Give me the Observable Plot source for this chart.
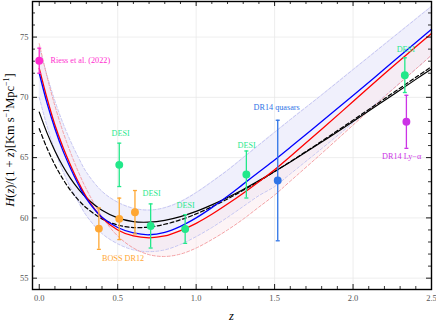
<!DOCTYPE html>
<html><head><meta charset="utf-8">
<script src="https://cdn.jsdelivr.net/npm/d3@7"></script>
<script src="https://cdn.jsdelivr.net/npm/@observablehq/plot@0.6"></script>
<style>body{margin:0;background:#fff;} #chart{width:436px;height:327px;}</style>
</head><body><div id="chart"></div>
<script>
// redshift grid for curves
const zGrid   = [0,0.05,0.1,0.15,0.2,0.25,0.3,0.4,0.5,0.6,0.7,0.8,0.9,1.0,1.1,1.2,1.3,1.4,1.5,1.6,1.8,2.0,2.2,2.4,2.5];
const hRed    = [72.4,69.9,67.7,65.9,64.35,62.95,61.75,60.0,59.0,58.5,58.35,58.5,58.95,59.55,60.3,61.15,62.05,63.0,64.0,65.1,67.35,69.65,71.95,74.2,75.3];
const hBlue   = [72.0,69.5,67.4,65.6,64.1,62.75,61.6,60.05,59.2,58.75,58.6,58.8,59.3,60.0,60.85,61.8,62.8,63.8,64.8,65.85,68.0,70.15,72.35,74.55,75.65];
const hBlack  = [68.77,67.03,65.55,64.3,63.26,62.39,61.67,60.63,60.0,59.69,59.65,59.8,60.11,60.54,61.08,61.69,62.36,63.09,63.85,64.64,66.29,68.0,69.74,71.49,72.36];
const hDashed = [67.4,65.77,64.39,63.24,62.27,61.48,60.84,59.92,59.41,59.2,59.24,59.47,59.84,60.33,60.92,61.57,62.29,63.04,63.84,64.66,66.36,68.11,69.88,71.66,72.54];
const hBandHi = [74.2,71.8,69.7,67.9,66.35,65.0,63.8,62.2,61.3,60.8,60.65,60.85,61.35,62.1,63.0,63.95,65.0,66.05,67.1,68.15,70.2,72.3,74.4,76.5,77.55];
const hBandLo = [70.0,67.6,65.6,63.9,62.5,61.3,60.2,58.7,57.85,57.35,57.2,57.35,57.8,58.45,59.2,60.05,60.95,61.85,62.6,63.65,65.75,67.9,70.1,72.35,73.5];
const hPink   = [74.45,71.7,69.3,67.2,65.4,63.8,62.4,60.1,58.5,57.5,56.95,56.8,57.0,57.5,58.2,59.0,59.9,60.9,61.9,63.05,65.35,67.7,70.05,72.35,73.5];

// observational data
const desiZ = [0.51,0.71,0.93,1.32,2.33];
const desiH = [64.4,59.33,59.08,63.6,71.84];
const desiE = [1.8,1.83,1.19,1.95,1.44];
const bossZ = [0.38,0.51,0.61];
const bossH = [59.11,59.92,60.47];
const bossE = [1.72,1.72,1.8];
const riessZ = [0], riessH = [73.04], riessE = [1.04];
const qsoZ = [1.52], qsoH = [63.1], qsoE = [5.0];
const lyaZ = [2.34], lyaH = [67.97], lyaE = [2.2];

// labels
const labText = ["Riess et al. (2022)","DESI","DESI","DESI","DESI","DESI","BOSS DR12","DR14 quasars","DR14 Ly\u2212\u03b1"];
const labZ    = [0.072,0.519,0.716,0.933,1.322,2.336,0.534,1.513,2.31];
const labH    = [73.07,67.0,62.02,61.03,66.0,73.98,56.62,69.16,65.09];
const labColor  = ["#ff2ccf","#2be88e","#2be88e","#2be88e","#2be88e","#2be88e","#ffa733","#2f74e6","#cc33e6"];

// ticks
const xTicks = [0,0.5,1,1.5,2,2.5];
const xMinor = [0.1,0.2,0.3,0.4,0.6,0.7,0.8,0.9,1.1,1.2,1.3,1.4,1.6,1.7,1.8,1.9,2.1,2.2,2.3,2.4];
const yTicks = [55,60,65,70,75];
const yMinor = [56,57,58,59,61,62,63,64,66,67,68,69,71,72,73,74,76,77];

const curves = zGrid.map((z,i)=>({z, red:hRed[i], blue:hBlue[i], black:hBlack[i], dashed:hDashed[i], hi:hBandHi[i], lo:hBandLo[i], pink:hPink[i]}));
const mk = (Z,H,E,c)=>Z.map((z,i)=>({z, h:H[i], e:E[i], c}));
const cRiess="#ff2ccf", cBoss="#ffa733", cDesi="#22e88a", cQso="#2f74e6", cLya="#cc33e6";
const pts = [...mk(bossZ,bossH,bossE,cBoss), ...mk(desiZ,desiH,desiE,cDesi), ...mk(riessZ,riessH,riessE,cRiess), ...mk(qsoZ,qsoH,qsoE,cQso), ...mk(lyaZ,lyaH,lyaE,cLya)];
const labels = labText.map((t,i)=>({t, z:labZ[i], h:labH[i], c:labColor[i]}));

const cap = {draw(ctx,size){const r=Math.sqrt(size/Math.PI); ctx.moveTo(-r,0); ctx.lineTo(r,0);}};
const W=436,H=327,mL=32,mR=5,mT=1,mB=38;
const pw=W-mL-mR, ph=H-mT-mB;
const serif="Liberation Serif, Times New Roman, serif";
const curve="catmull-rom";

const plot = Plot.plot({
  width:W, height:H, marginLeft:mL, marginRight:mR, marginTop:mT, marginBottom:mB,
  x:{domain:[-0.043,2.5]}, y:{domain:[54.06,77.95]},
  style:{fontFamily:serif, background:"#fff"},
  marks:[
    Plot.gridX(xTicks.slice(1,-1), {stroke:"#e6e6e6", strokeOpacity:1, strokeWidth:0.7}),
    Plot.gridY(yTicks, {stroke:"#e6e6e6", strokeOpacity:1, strokeWidth:0.7}),
    Plot.areaY(curves, {x:"z", y1:"lo", y2:"hi", fill:"#f0f0fc", curve}),
    Plot.areaY(curves, {x:"z", y1:"pink", y2:"red", fill:"#fbe6ea", fillOpacity:0.45, curve}),
    Plot.line(curves, {x:"z", y:"hi", stroke:"#c6c6f2", strokeWidth:1, strokeDasharray:"3,2", curve}),
    Plot.line(curves, {x:"z", y:"lo", stroke:"#c6c6f2", strokeWidth:1, strokeDasharray:"3,2", curve}),
    Plot.line(curves, {x:"z", y:"pink", stroke:"#f4a0a4", strokeWidth:1, strokeDasharray:"3,2", curve}),
    Plot.line(curves, {x:"z", y:"dashed", stroke:"#000", strokeWidth:1.2, strokeDasharray:"4,2.5", curve}),
    Plot.line(curves, {x:"z", y:"black", stroke:"#000", strokeWidth:1.2, curve}),
    Plot.line(curves, {x:"z", y:"red", stroke:"#f00", strokeWidth:1.3, curve}),
    Plot.line(curves, {x:"z", y:"blue", stroke:"#00f", strokeWidth:1.3, curve}),
    Plot.ruleX(pts, {x:"z", y1:d=>d.h-d.e, y2:d=>d.h+d.e, stroke:"c", strokeWidth:1.3}),
    Plot.dot(pts, {x:"z", y:d=>d.h+d.e, symbol:cap, r:2, stroke:"c", strokeWidth:1.3}),
    Plot.dot(pts, {x:"z", y:d=>d.h-d.e, symbol:cap, r:2, stroke:"c", strokeWidth:1.3}),
    Plot.dot(pts, {x:"z", y:"h", r:3.2, fill:"c", stroke:"c"}),
    Plot.text(labels.slice(0,1), {x:"z", y:"h", text:"t", textAnchor:"start", fill:"c", fontSize:8.2, fontFamily:serif}),
    Plot.text(labels.slice(1), {x:"z", y:"h", text:"t", textAnchor:"middle", fill:"c", fontSize:8.2, fontFamily:serif}),
    // inward ticks on all four sides
    Plot.tickX(xTicks, {x:d=>d, insetTop:ph-5, stroke:"#000", strokeWidth:0.9}),
    Plot.tickX(xMinor, {x:d=>d, insetTop:ph-3, stroke:"#000", strokeWidth:0.8}),
    Plot.tickX(xTicks, {x:d=>d, insetBottom:ph-5, stroke:"#000", strokeWidth:0.9}),
    Plot.tickX(xMinor, {x:d=>d, insetBottom:ph-3, stroke:"#000", strokeWidth:0.8}),
    Plot.tickY(yTicks, {y:d=>d, insetRight:pw-5, stroke:"#000", strokeWidth:0.9}),
    Plot.tickY(yMinor, {y:d=>d, insetRight:pw-3, stroke:"#000", strokeWidth:0.8}),
    Plot.tickY(yTicks, {y:d=>d, insetLeft:pw-5, stroke:"#000", strokeWidth:0.9}),
    Plot.tickY(yMinor, {y:d=>d, insetLeft:pw-3, stroke:"#000", strokeWidth:0.8}),
    Plot.frame({stroke:"#000", strokeWidth:1.4}),
    Plot.axisX(xTicks, {tickSize:0, tickPadding:5, tickFormat:d=>d.toFixed(1), fontSize:8.5, fill:"#555", label:null}),
    Plot.axisY(yTicks, {tickSize:0, tickPadding:4, tickFormat:d=>String(d), fontSize:8.5, fill:"#555", label:null})
  ]
});
document.getElementById("chart").appendChild(plot);

const svg = d3.select(plot);
const xs = plot.scale("x"), ys = plot.scale("y");
const cx = (xs.range[0]+xs.range[1])/2;
svg.append("text").attr("x",cx).attr("y",320).attr("text-anchor","middle")
  .attr("font-family",serif).attr("font-size",12.5).attr("font-style","italic").text("z");
const cy = (ys.range[0]+ys.range[1])/2 - 5;
const t = svg.append("text").attr("transform",`translate(14,${cy}) rotate(-90)`).attr("text-anchor","middle")
  .attr("font-family",serif).attr("font-size",12.5).attr("fill","#000");
t.append("tspan").attr("font-style","italic").text("H");
t.append("tspan").text("(");
t.append("tspan").attr("font-style","italic").text("z");
t.append("tspan").text(")/(1 + ");
t.append("tspan").attr("font-style","italic").text("z");
t.append("tspan").text(")[Km s");
t.append("tspan").attr("font-size",8).attr("dy",-5).text("\u22121");
t.append("tspan").attr("dy",5).text("Mpc");
t.append("tspan").attr("font-size",8).attr("dy",-5).text("\u22121");
t.append("tspan").attr("dy",5).text("]");
</script>
</body></html>
